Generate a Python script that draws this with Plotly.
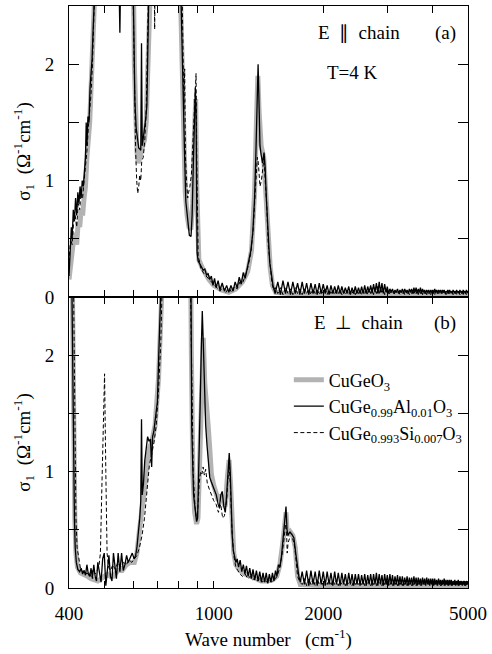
import math
import plotly.graph_objects as go

# ---------------- data (wave number in cm^-1, sigma_1 in Ohm^-1 cm^-1) ----------------
# Shared wave-number grid of the interference-fringe region
FRINGE_X = [1475, 1500, 1525, 1550, 1575, 1600, 1625, 1650, 1675, 1700,
            1725, 1750, 1775, 1800, 1825, 1850, 1875, 1900, 1925, 1950,
            1975, 2000, 2025, 2050, 2075, 2100, 2125, 2150, 2175, 2200,
            2225, 2250, 2275, 2300, 2325, 2350, 2375, 2400, 2425, 2450,
            2475, 2500, 2525, 2550, 2575, 2600, 2625, 2650, 2675, 2700,
            2725, 2750, 2775, 2800, 2825, 2850, 2875, 2900, 2925, 2950,
            2975, 3000, 3025, 3050, 3075, 3100, 3125, 3150, 3175, 3200,
            3225, 3250, 3275, 3300, 3325, 3350, 3375, 3400, 3425, 3450,
            3475, 3500, 3525, 3550, 3575, 3600, 3625, 3650, 3675, 3700,
            3725, 3750, 3775, 3800, 3825, 3850, 3875, 3900, 3925, 3950,
            3975, 4000, 4025, 4050, 4075, 4100, 4125, 4150, 4175, 4200,
            4225, 4250, 4275, 4300, 4325, 4350, 4375, 4400, 4425, 4450,
            4475, 4500, 4525, 4550, 4575, 4600, 4625, 4650, 4675, 4700,
            4725, 4750, 4775, 4800, 4825, 4850, 4875, 4900, 4925, 4950,
            4975, 5000]

# ---- Panel (a): E || chain ----
A_GRAY_X = [400, 404, 408, 412, 416, 420, 424, 428, 432, 436, 440, 444, 448, 452, 456, 460, 464, 468, 474, 490,
            590, 600, 605, 610, 615, 620, 627, 635, 645, 652, 660, 668, 690,
            790, 805, 815, 825, 835, 845, 855, 865, 875, 885, 892, 897, 902, 910, 930, 950, 970, 1000, 1050, 1100,
            1150, 1200, 1240, 1270, 1295, 1310, 1322, 1332, 1350, 1372, 1390, 1410, 1430, 1450, 1480, 1600, 2000,
            3000, 5000]
A_GRAY_Y = [0.15, 0.3, 0.35, 0.5, 0.55, 0.45, 0.65, 0.6, 0.75, 0.7, 0.85, 0.95, 1.2, 1.35, 1.5, 1.8, 2.1, 2.4, 3.2, 4.0,
            4.0, 3.0, 2.0, 1.5, 1.25, 1.15, 1.2, 1.25, 1.35, 1.5, 2.0, 3.0, 4.0,
            4.0, 3.0, 2.0, 1.4, 0.9, 0.7, 0.6, 0.58, 0.8, 1.4, 1.7, 1.0, 0.45, 0.32, 0.25, 0.2, 0.15, 0.1, 0.06, 0.04,
            0.07, 0.13, 0.22, 0.4, 0.9, 1.5, 1.9, 1.6, 1.3, 1.2, 0.9, 0.5, 0.25, 0.1, 0.04, 0.03, 0.03,
            0.03, 0.03]

A_SOLID_X = [400, 403, 406, 408, 411, 414, 417, 420, 423, 426, 429, 432, 435, 438, 441, 444, 446, 448, 451, 454,
             457, 460, 463, 466, 469, 475, 490,
             540, 548, 552, 556, 570, 595, 599, 603, 607, 612, 617, 622, 627, 630, 633, 636, 641, 646, 651, 655,
             659, 664, 670, 700,
             790, 800, 812, 821, 831, 838, 849, 857, 866, 872, 878, 884, 890, 894, 897, 900, 906, 915, 925, 935,
             945, 955, 965, 975, 985, 995, 1005, 1015, 1028, 1040, 1055, 1070, 1085, 1100, 1115, 1130, 1145, 1160,
             1175, 1190, 1205, 1220, 1235, 1250, 1265, 1280, 1295, 1305, 1315, 1324, 1330, 1340, 1350, 1362, 1375,
             1384, 1395, 1410, 1425, 1440, 1455]
A_SOLID_Y = [0.18, 0.45, 0.6, 0.5, 0.75, 0.65, 0.85, 0.7, 0.9, 0.8, 0.95, 0.85, 1.0, 0.95, 1.05, 1.2, 1.5, 1.3, 1.55, 1.5,
             1.8, 1.9, 2.05, 2.3, 2.7, 3.5, 4.0,
             4.0, 3.0, 2.27, 3.0, 4.0, 3.5, 3.0, 2.2, 1.68, 1.45, 1.34, 1.28, 1.27, 1.26, 2.18, 1.3, 1.38, 1.45, 1.55, 1.65,
             2.0, 2.6, 3.5, 4.0,
             4.0, 3.5, 2.5, 1.97, 1.25, 0.82, 0.62, 0.53, 0.52, 0.7, 1.1, 1.5, 1.8, 1.6, 0.8, 0.38, 0.31, 0.29, 0.26, 0.23,
             0.24, 0.19, 0.2, 0.15, 0.18, 0.1, 0.16, 0.08, 0.14, 0.06, 0.12, 0.05, 0.1, 0.04, 0.1, 0.05, 0.13, 0.08,
             0.17, 0.11, 0.21, 0.16, 0.24, 0.3, 0.4, 0.55, 0.85, 1.2, 1.7, 2.0, 1.75, 1.3, 1.22, 1.15, 1.24,
             1.12, 0.85, 0.5, 0.3, 0.2, 0.1]
A_SOLID_FRINGE_Y = [0.03, 0.13, 0.02, 0.14, 0.03, 0.13, 0.02, 0.13, 0.03, 0.12,
                    0.02, 0.13, 0.03, 0.12, 0.02, 0.12, 0.03, 0.11, 0.02, 0.12,
                    0.03, 0.11, 0.03, 0.10, 0.02, 0.10, 0.03, 0.09, 0.03, 0.10,
                    0.03, 0.09, 0.03, 0.08, 0.03, 0.09, 0.02, 0.08, 0.03, 0.09,
                    0.03, 0.08, 0.03, 0.09, 0.03, 0.10, 0.03, 0.09, 0.04, 0.10,
                    0.03, 0.11, 0.04, 0.12, 0.03, 0.13, 0.04, 0.12, 0.03, 0.11,
                    0.04, 0.09, 0.03, 0.07, 0.04, 0.07, 0.03, 0.06, 0.04, 0.07,
                    0.03, 0.06, 0.04, 0.07, 0.03, 0.07, 0.04, 0.06, 0.03, 0.07,
                    0.04, 0.07, 0.03, 0.08, 0.04, 0.08, 0.03, 0.07, 0.04, 0.08,
                    0.03, 0.07, 0.04, 0.06, 0.03, 0.06, 0.04, 0.06, 0.03, 0.06,
                    0.04, 0.06, 0.03, 0.07, 0.04, 0.06, 0.03, 0.06, 0.04, 0.06,
                    0.03, 0.06, 0.04, 0.06, 0.03, 0.05, 0.04, 0.06, 0.03, 0.06,
                    0.04, 0.05, 0.03, 0.06, 0.04, 0.05, 0.03, 0.06, 0.04, 0.05,
                    0.03, 0.06, 0.04, 0.05, 0.03, 0.06, 0.04, 0.05, 0.03, 0.06,
                    0.04, 0.05]

A_DASH_X = [400, 404, 408, 412, 416, 420, 424, 428, 432, 436, 440, 444, 448, 452, 456, 460, 464, 468, 472, 485,
            590, 600, 605, 610, 614, 618, 622, 626, 630, 634, 640, 646, 652, 658, 664, 675, 683, 688, 693, 720,
            800, 815, 822, 828, 832, 836, 842, 848, 853, 860, 868, 876, 884, 890, 894, 898, 902, 906, 915, 920,
            940, 960, 980, 1000, 1020, 1040, 1060, 1080, 1100, 1120, 1140, 1160, 1180, 1200, 1220, 1240, 1265,
            1285, 1300, 1310, 1318, 1326, 1340, 1352, 1365, 1375, 1385, 1398, 1412, 1428, 1445, 1460]
A_DASH_Y = [0.3, 0.5, 0.45, 0.65, 0.7, 0.6, 0.8, 0.75, 0.9, 0.85, 1.0, 1.1, 1.25, 1.45, 1.6, 1.75, 2.0, 2.3, 2.8, 4.0,
            4.0, 2.5, 1.6, 1.25, 1.0, 0.89, 0.95, 1.05, 1.0, 1.17, 1.2, 1.34, 1.6, 2.2, 3.0, 4.0, 3.5, 2.3, 3.5, 4.0,
            4.0, 3.0, 2.3, 1.6, 1.96, 1.2, 1.0, 0.85, 0.9, 0.95, 1.05, 1.3, 1.6, 1.75, 1.92, 1.2, 0.6, 0.35, 0.3, 0.25,
            0.2, 0.17, 0.14, 0.11, 0.08, 0.05, 0.09, 0.04, 0.08, 0.04, 0.09, 0.07, 0.13, 0.12, 0.18, 0.25, 0.38,
            0.6, 0.9, 1.1, 1.2, 1.15, 0.95, 1.0, 1.15, 1.2, 1.0, 0.8, 0.45, 0.25, 0.12, 0.06]
A_DASH_FRINGE_Y = [0.08, 0.03, 0.08, 0.02, 0.08, 0.03, 0.07, 0.02, 0.08, 0.03,
                   0.07, 0.02, 0.07, 0.03, 0.07, 0.02, 0.07, 0.03, 0.06, 0.02,
                   0.06, 0.03, 0.07, 0.02, 0.06, 0.03, 0.06, 0.02, 0.06, 0.03,
                   0.06, 0.02, 0.05, 0.03, 0.06, 0.02, 0.05, 0.03, 0.06, 0.02,
                   0.05, 0.03, 0.06, 0.02, 0.06, 0.03, 0.07, 0.02, 0.07, 0.03,
                   0.08, 0.02, 0.08, 0.03, 0.09, 0.02, 0.08, 0.03, 0.07, 0.02,
                   0.06, 0.03, 0.05, 0.02, 0.05, 0.03, 0.05, 0.02, 0.05, 0.03,
                   0.05, 0.02, 0.05, 0.03, 0.05, 0.02, 0.05, 0.03, 0.05, 0.02,
                   0.05, 0.03, 0.06, 0.02, 0.06, 0.03, 0.05, 0.02, 0.06, 0.03,
                   0.05, 0.02, 0.05, 0.03, 0.05, 0.02, 0.05, 0.03, 0.05, 0.02,
                   0.05, 0.03, 0.05, 0.02, 0.05, 0.03, 0.05, 0.02, 0.05, 0.03,
                   0.05, 0.02, 0.05, 0.03, 0.04, 0.02, 0.05, 0.03, 0.04, 0.02,
                   0.05, 0.03, 0.04, 0.02, 0.05, 0.03, 0.04, 0.02, 0.05, 0.03,
                   0.04, 0.02, 0.05, 0.03, 0.04, 0.02, 0.05, 0.03, 0.04, 0.02,
                   0.05, 0.03]

# ---- Panel (b): E perpendicular to chain ----
B_GRAY_X = [400, 406, 409, 411, 413, 415, 418, 422, 430, 440, 450, 460, 470, 480, 490, 500, 510, 520, 530, 545,
            560, 575, 590, 605, 615, 625, 635, 645, 655, 665, 675, 690, 705, 718, 730, 750,
            850, 860, 868, 876, 886, 897, 905, 912, 920, 928, 936, 945, 955, 965, 975, 985, 1000, 1015, 1030, 1045,
            1060, 1075, 1090, 1102, 1112, 1122, 1135, 1150, 1180, 1220, 1260, 1300, 1350, 1400, 1450, 1490, 1520,
            1550, 1570, 1580, 1590, 1605, 1625, 1650, 1675, 1700, 1730, 2000, 3000, 5000]
B_GRAY_Y = [4.0, 3.5, 2.5, 1.5, 1.0, 0.6, 0.3, 0.18, 0.13, 0.12, 0.1, 0.08, 0.07, 0.06, 0.08, 0.1, 0.12, 0.1, 0.1, 0.15,
            0.15, 0.2, 0.22, 0.22, 0.3, 0.5, 0.65, 0.85, 1.05, 1.2, 1.25, 1.4, 1.8, 2.4, 3.5, 4.0,
            4.0, 3.5, 2.0, 1.0, 0.65, 0.55, 0.6, 1.0, 1.6, 2.1, 2.15, 1.75, 1.5, 1.4, 1.2, 0.98, 0.88, 0.82, 0.75, 0.8,
            0.75, 0.7, 0.95, 1.1, 0.9, 0.5, 0.3, 0.2, 0.15, 0.12, 0.1, 0.08, 0.06, 0.06, 0.07, 0.1, 0.2,
            0.4, 0.6, 0.65, 0.5, 0.45, 0.48, 0.45, 0.35, 0.1, 0.03, 0.02, 0.02, 0.02]

B_SOLID_X = [400, 404, 406, 408, 410, 412, 414, 416, 419, 423, 428, 432, 436, 440, 444, 448, 452, 456, 460, 464,
             468, 472, 476, 480, 485, 490, 495, 500, 505, 510, 515, 520, 525, 530, 535, 540, 546, 552, 558, 564,
             570, 576, 582, 590, 597, 604, 610, 615, 620, 626, 630, 633, 636, 641, 646, 652, 658, 664, 670, 675,
             679, 684, 690, 700, 706, 712, 720, 740,
             850, 860, 866, 870, 880, 890, 897, 903, 910, 918, 925, 930, 936, 944, 950, 958, 966, 975, 985, 1000,
             1016, 1028, 1036, 1046, 1055, 1066, 1076, 1085, 1095, 1103, 1110, 1117, 1124, 1132, 1140, 1150, 1160,
             1170, 1182, 1194, 1206, 1218, 1230, 1243, 1256, 1269, 1282, 1296, 1310, 1324, 1338, 1352, 1366, 1380,
             1394, 1408, 1422, 1436, 1450, 1464, 1478, 1492, 1506, 1520, 1535, 1550, 1565, 1580, 1590, 1600,
             1610, 1620, 1640, 1661, 1680, 1693, 1714, 1730]
B_SOLID_Y = [4.0, 4.0, 3.0, 2.4, 1.5, 1.0, 0.6, 0.35, 0.22, 0.16, 0.14, 0.17, 0.12, 0.15, 0.11, 0.2, 0.12, 0.1, 0.17, 0.08,
             0.2, 0.1, 0.06, 0.22, 0.12, 0.05, 0.25, 0.3, 0.02, 0.18, 0.28, 0.1, 0.06, 0.3, 0.2, 0.08, 0.3, 0.14, 0.3, 0.15,
             0.2, 0.28, 0.22, 0.27, 0.3, 0.25, 0.28, 0.35, 0.45, 0.6, 0.75, 1.45, 0.8, 0.9, 1.09, 1.2, 1.3, 1.26, 1.28, 1.04,
             1.3, 1.34, 1.45, 1.6, 2.0, 2.3, 3.0, 4.0,
             4.0, 3.5, 2.5, 1.38, 0.8, 0.65, 0.57, 0.6, 1.0, 1.6, 2.1, 2.38, 2.1, 1.66, 1.4, 1.23, 1.05, 0.95, 0.91, 0.85,
             0.8, 0.72, 0.69, 0.8, 0.83, 0.7, 0.65, 0.8, 1.05, 1.16, 1.0, 0.69, 0.45, 0.32, 0.28, 0.22, 0.25,
             0.18, 0.24, 0.14, 0.2, 0.12, 0.19, 0.1, 0.17, 0.08, 0.16, 0.07, 0.15, 0.06, 0.14, 0.05, 0.13, 0.05,
             0.13, 0.04, 0.12, 0.05, 0.13, 0.06, 0.15, 0.1, 0.2, 0.18, 0.27, 0.4, 0.55, 0.7, 0.5, 0.45,
             0.47, 0.48, 0.46, 0.43, 0.3, 0.21, 0.1, 0.05]
B_SOLID_FRINGE_Y = [0.14, 0.03, 0.15, 0.02, 0.15, 0.03, 0.14, 0.02, 0.15, 0.03,
                    0.14, 0.02, 0.14, 0.03, 0.13, 0.02, 0.14, 0.03, 0.13, 0.02,
                    0.13, 0.03, 0.12, 0.02, 0.13, 0.03, 0.12, 0.02, 0.12, 0.03,
                    0.12, 0.02, 0.11, 0.03, 0.12, 0.02, 0.11, 0.03, 0.12, 0.02,
                    0.12, 0.03, 0.13, 0.02, 0.12, 0.03, 0.11, 0.02, 0.12, 0.03,
                    0.11, 0.02, 0.12, 0.03, 0.11, 0.02, 0.10, 0.03, 0.11, 0.02,
                    0.10, 0.03, 0.10, 0.02, 0.09, 0.03, 0.10, 0.02, 0.09, 0.03,
                    0.09, 0.02, 0.10, 0.03, 0.09, 0.02, 0.09, 0.03, 0.08, 0.02,
                    0.09, 0.03, 0.08, 0.02, 0.09, 0.03, 0.08, 0.02, 0.08, 0.03,
                    0.08, 0.02, 0.08, 0.03, 0.07, 0.02, 0.08, 0.03, 0.07, 0.02,
                    0.07, 0.03, 0.08, 0.02, 0.07, 0.03, 0.07, 0.02, 0.07, 0.03,
                    0.07, 0.02, 0.06, 0.03, 0.07, 0.02, 0.06, 0.03, 0.07, 0.02,
                    0.06, 0.03, 0.06, 0.02, 0.06, 0.03, 0.06, 0.02, 0.06, 0.03,
                    0.06]

B_DASH_X = [400, 408, 412, 415, 418, 421, 425, 430, 436, 442, 448, 454, 460, 466, 472, 478, 484, 488, 492, 497,
            501, 505, 509, 514, 520, 528, 536, 545, 555, 565, 575, 585, 595, 605, 615, 625, 635, 645, 655, 665,
            675, 685, 695, 705, 715, 725, 740,
            850, 858, 864, 870, 878, 888, 897, 905, 912, 920, 928, 935, 942, 950, 960, 972, 985, 1000, 1015, 1030,
            1045, 1058, 1070, 1085, 1095, 1103, 1112, 1122, 1135, 1150, 1165, 1180, 1200, 1220, 1240, 1260, 1280,
            1300, 1320, 1340, 1360, 1380, 1400, 1420, 1440, 1460, 1480, 1500, 1520, 1540, 1560, 1575, 1585, 1592,
            1600, 1612, 1630, 1650, 1670, 1685, 1700, 1725]
B_DASH_Y = [4.0, 3.5, 2.5, 1.5, 0.6, 0.35, 0.25, 0.17, 0.14, 0.15, 0.12, 0.14, 0.1, 0.16, 0.12, 0.15, 0.2, 0.3, 0.8, 1.4,
            1.84, 1.0, 0.3, 0.18, 0.15, 0.2, 0.16, 0.22, 0.18, 0.22, 0.2, 0.24, 0.22, 0.25, 0.28, 0.35, 0.45, 0.6, 0.85, 1.05,
            1.15, 1.25, 1.4, 1.7, 2.1, 2.6, 4.0,
            4.0, 3.5, 2.5, 1.6, 1.0, 0.7, 0.58, 0.7, 0.9, 1.0, 0.98, 1.04, 0.97, 1.02, 0.9, 0.85, 0.8, 0.75, 0.72, 0.65,
            0.72, 0.6, 0.62, 0.75, 0.95, 1.05, 0.85, 0.5, 0.28, 0.18, 0.15, 0.12, 0.1, 0.12, 0.08, 0.1, 0.07,
            0.09, 0.06, 0.08, 0.05, 0.07, 0.05, 0.07, 0.05, 0.07, 0.08, 0.12, 0.18, 0.28, 0.42, 0.55, 0.5, 0.3,
            0.38, 0.42, 0.43, 0.42, 0.35, 0.22, 0.1, 0.05]
B_DASH_FRINGE_Y = [0.03, 0.08, 0.02, 0.08, 0.03, 0.08, 0.02, 0.08, 0.03, 0.07,
                   0.02, 0.07, 0.03, 0.07, 0.02, 0.07, 0.03, 0.07, 0.02, 0.06,
                   0.03, 0.07, 0.02, 0.06, 0.03, 0.06, 0.02, 0.06, 0.03, 0.06,
                   0.02, 0.06, 0.03, 0.06, 0.02, 0.06, 0.03, 0.06, 0.02, 0.06,
                   0.03, 0.07, 0.02, 0.07, 0.03, 0.06, 0.02, 0.06, 0.03, 0.06,
                   0.02, 0.06, 0.03, 0.05, 0.02, 0.06, 0.03, 0.05, 0.02, 0.05,
                   0.03, 0.05, 0.02, 0.05, 0.03, 0.05, 0.02, 0.05, 0.03, 0.05,
                   0.02, 0.05, 0.03, 0.05, 0.02, 0.05, 0.03, 0.05, 0.02, 0.05,
                   0.03, 0.05, 0.02, 0.05, 0.03, 0.05, 0.02, 0.05, 0.03, 0.04,
                   0.02, 0.05, 0.03, 0.04, 0.02, 0.05, 0.03, 0.04, 0.02, 0.05,
                   0.03, 0.04, 0.02, 0.05, 0.03, 0.04, 0.02, 0.05, 0.03, 0.04,
                   0.02, 0.05, 0.03, 0.04, 0.02, 0.05, 0.03, 0.04, 0.02, 0.05,
                   0.03, 0.04, 0.02, 0.05, 0.03, 0.04, 0.02, 0.05, 0.03, 0.04,
                   0.03]

B_FRINGE_START = 11  # FRINGE_X index of 1750 cm^-1

X_TICKS = [400, 1000, 2000, 5000]
X_TICKTEXT = ["400", "1000", "2000", "5000"]
X_MINOR = [500, 600, 700, 800, 900, 3000, 4000]
Y_TICKS = [0, 1, 2]
Y_TICKTEXT = ["0", "1", "2"]
Y_MINOR = [0.5, 1.5]

NAMES = ["CuGeO<sub>3</sub>",
         "CuGe<sub>0.99</sub>Al<sub>0.01</sub>O<sub>3</sub>",
         "CuGe<sub>0.993</sub>Si<sub>0.007</sub>O<sub>3</sub>"]

# ---------------- figure ----------------
FONT = "Liberation Serif"
GRAY = "#b3b3b3"

fig = go.Figure()


def add_panel(xa, ya, gx, gy, dx, dy, sx, sy, legend):
    fig.add_trace(go.Scatter(x=gx, y=gy, mode="lines", name=NAMES[0], legendrank=1,
                             line=dict(color=GRAY, width=5), xaxis=xa, yaxis=ya,
                             showlegend=legend, hoverinfo="skip"))
    fig.add_trace(go.Scatter(x=dx, y=dy, mode="lines", name=NAMES[2], legendrank=3,
                             line=dict(color="black", width=1, dash="4px,2.5px"), xaxis=xa, yaxis=ya,
                             showlegend=legend, hoverinfo="skip"))
    fig.add_trace(go.Scatter(x=sx, y=sy, mode="lines", name=NAMES[1], legendrank=2,
                             line=dict(color="black", width=1.3), xaxis=xa, yaxis=ya,
                             showlegend=legend, hoverinfo="skip"))


# panel (a) on top
add_panel("x2", "y2", A_GRAY_X, A_GRAY_Y,
          A_DASH_X + FRINGE_X, A_DASH_Y + A_DASH_FRINGE_Y,
          A_SOLID_X + FRINGE_X, A_SOLID_Y + A_SOLID_FRINGE_Y, False)
# panel (b) at the bottom
add_panel("x", "y", B_GRAY_X, B_GRAY_Y,
          B_DASH_X + FRINGE_X[B_FRINGE_START:], B_DASH_Y + B_DASH_FRINGE_Y,
          B_SOLID_X + FRINGE_X[B_FRINGE_START:], B_SOLID_Y + B_SOLID_FRINGE_Y, True)

xr = [math.log10(400), math.log10(5000)]
axis_common = dict(showline=True, linecolor="black", linewidth=1, mirror="ticks",
                   ticks="inside", tickcolor="black", showgrid=False, zeroline=False,
                   tickfont=dict(family=FONT, size=19, color="black"))
x_minor = dict(tickmode="array", tickvals=X_MINOR, ticks="inside", ticklen=7,
               tickcolor="black", showgrid=False)
y_minor = dict(tickmode="array", tickvals=Y_MINOR, ticks="inside", ticklen=10,
               tickcolor="black", showgrid=False)
y_title = dict(text="σ<sub>1</sub>\u00a0\u00a0(Ω<sup>-1</sup>cm<sup>-1</sup>)",
               font=dict(family=FONT, size=19, color="black"), standoff=9)

fig.update_layout(
    width=492, height=654,
    margin=dict(l=69, r=22, t=5, b=66),
    paper_bgcolor="white", plot_bgcolor="white",
    font=dict(family=FONT, size=19, color="black"),
    xaxis=dict(domain=[0, 1], anchor="y", type="log", range=xr,
               tickmode="array", tickvals=X_TICKS, ticktext=X_TICKTEXT, ticklen=7,
               ticklabelstandoff=8, minor=x_minor,
               title=dict(text="Wave number\u00a0\u00a0\u00a0(cm<sup>-1</sup>)",
                          font=dict(family=FONT, size=19, color="black"), standoff=9),
               **axis_common),
    xaxis2=dict(domain=[0, 1], anchor="y2", type="log", range=xr, matches="x",
                tickmode="array", tickvals=X_TICKS, ticktext=X_TICKTEXT, ticklen=7,
                showticklabels=False, minor=x_minor, **axis_common),
    yaxis=dict(domain=[0, 0.5], anchor="x", range=[0, 2.5],
               tickmode="array", tickvals=Y_TICKS, ticktext=Y_TICKTEXT, ticklen=10,
               ticklabelstandoff=10, minor=y_minor, title=y_title, **axis_common),
    yaxis2=dict(domain=[0.5, 1], anchor="x2", range=[0, 2.5],
                tickmode="array", tickvals=Y_TICKS, ticktext=Y_TICKTEXT, ticklen=10,
                ticklabelstandoff=10, minor=y_minor, title=y_title, **axis_common),
    legend=dict(x=0.551, y=0.389, xanchor="left", yanchor="top",
                bgcolor="rgba(0,0,0,0)", borderwidth=0, tracegroupgap=0,
                font=dict(family=FONT, size=18, color="black"), itemwidth=30),
    showlegend=True,
)

ann_font = dict(family=FONT, size=19, color="black")
for txt, ax, ay in [("E\u00a0\u00a0∥\u00a0\u00a0chain", 0.726, 0.954),
                    ("(a)", 0.943, 0.954),
                    ("T=4 K", 0.711, 0.885),
                    ("E\u00a0\u00a0⊥\u00a0\u00a0chain", 0.726, 0.456),
                    ("(b)", 0.943, 0.456)]:
    fig.add_annotation(text=txt, x=ax, y=ay, xref="paper", yref="paper",
                       xanchor="center", yanchor="middle", showarrow=False, font=ann_font)

fig.write_html("out.html",
               config={"displayModeBar": False, "staticPlot": True},
               post_script="document.body.style.margin='0px';document.body.style.padding='0px';")
